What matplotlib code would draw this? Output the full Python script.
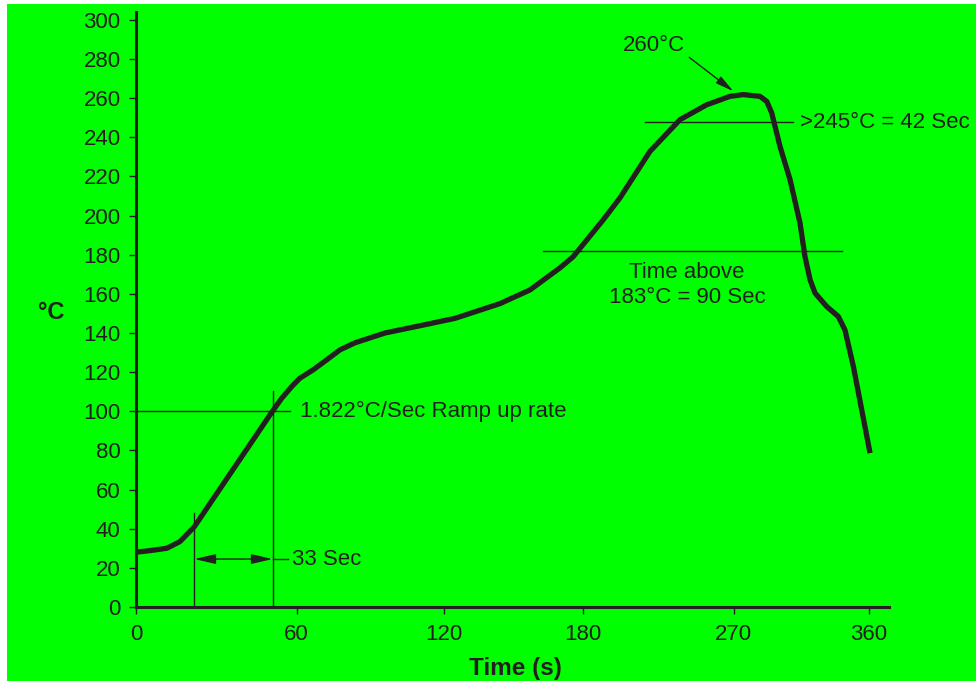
import numpy as np
import matplotlib
matplotlib.use("Agg")
import matplotlib.pyplot as plt

plt.rcParams['font.family'] = ['Liberation Sans', 'DejaVu Sans']

# ---------------- data ----------------
time_s = [0, 5.2, 11.5, 16.4, 21.8, 51.1, 54.5, 58.2, 61.4, 66.8, 72.3, 77.7,
          83.8, 96, 110.2, 124.8, 144.2, 157.2, 170.2, 175.9, 192.3, 202.2,
          220.1, 238, 253.9, 267.8, 276.4, 287.5, 292, 295.3, 300.8, 307.5,
          314.1, 317.4, 320.8, 324.1, 331.9, 339.6, 344, 349.6, 360.7]
temp_c = [28, 28.8, 30, 33.4, 41, 100.2, 106.7, 112.6, 116.9, 121.2, 126.3, 131.4,
          135, 140, 143.7, 147.5, 155, 162, 173.3, 179, 197.9, 209,
          232.8, 249, 256.6, 260.9, 261.8, 260.9, 258.3, 252.4, 235.3, 218.3,
          196.2, 179.1, 167.2, 160.4, 153.5, 148.4, 141.6, 122.9, 78.6]

x_ticks = [0, 60, 120, 180, 270, 360]
y_ticks = list(range(0, 301, 20))

ramp_level = 100
ramp_t0, ramp_t1 = 21.8, 51.1
liq_level, liq_t0, liq_t1 = 182, 162.7, 341.8
peak_level, peak_t0, peak_t1 = 247.6, 216.9, 309.7

# ---------------- non-uniform time axis (as drawn in reference) ----------------
_tk = np.array([-60, 0, 60, 120, 180, 270, 360, 420])
_pk = np.array([-160.5, 0, 160.5, 308, 446.7, 597.7, 733, 823.2])

def fwd(t):
    return np.interp(t, _tk, _pk)

def inv(p):
    return np.interp(p, _pk, _tk)

W, H = 976, 683
fig = plt.figure(figsize=(W / 100, H / 100), dpi=100, facecolor='white')
bg = fig.add_axes([7 / W, 2 / H, 1 - 7 / W, 1 - 6 / H], zorder=-5)
bg.set_facecolor('#00ff00')
bg.set_xticks([]); bg.set_yticks([])
for s in bg.spines.values():
    s.set_visible(False)

ax_l, ax_r, ax_b, ax_t = 136, 889, 607, 12
ax = fig.add_axes([ax_l / W, 1 - ax_b / H, (ax_r - ax_l) / W, (ax_b - ax_t) / H], zorder=1)
ax.set_facecolor('none')
ax.set_xscale('function', functions=(fwd, inv))
ax.set_xlim(0, float(inv(ax_r - ax_l)))
ax.set_ylim(0, 304)

dark = '#231f20'
for s in ['top', 'right']:
    ax.spines[s].set_visible(False)
for s in ['left', 'bottom']:
    ax.spines[s].set_linewidth(2.2)
    ax.spines[s].set_color(dark)

ax.set_xticks(x_ticks)
ax.set_xticklabels([str(v) for v in x_ticks])
ax.set_yticks(y_ticks)
ax.set_yticklabels([str(v) for v in y_ticks])
ax.xaxis.set_minor_locator(matplotlib.ticker.NullLocator())
ax.tick_params(axis='both', direction='out', length=5, width=1, color=dark,
               labelsize=16, labelcolor=dark)
ax.tick_params(axis='y', pad=6)
ax.tick_params(axis='x', pad=7)

# main profile
ax.plot(time_s, temp_c, color=dark, lw=3.8, solid_capstyle='butt',
        solid_joinstyle='round', zorder=5)

tl = dict(color=dark, lw=1.0, zorder=3)
# ramp-up construction
ax.plot([0, 57.6], [ramp_level, ramp_level], **tl)
ax.plot([ramp_t0, ramp_t0], [0, 48], **tl)
ax.plot([ramp_t1, ramp_t1], [0, 110.4], **tl)
ax.plot([ramp_t1, 56.8], [24.5, 24.5], **tl)
ax.annotate('', xy=(ramp_t0, 24.5), xytext=(ramp_t1, 24.5),
            arrowprops=dict(arrowstyle='<|-|>,head_length=1.3,head_width=0.3',
                            mutation_scale=10, color=dark, lw=1.0,
                            shrinkA=0, shrinkB=0))
ax.text(58.3, 24.5, '33 Sec', fontsize=16, color=dark, va='center', ha='left')
ax.text(61.4, ramp_level, '1.822°C/Sec Ramp up rate', fontsize=16, color=dark,
        va='center', ha='left')

# liquidus line
ax.plot([liq_t0, liq_t1], [liq_level, liq_level], **tl)
ax.text(242.2, 164.5, 'Time above\n183°C = 90 Sec', fontsize=16, color=dark,
        va='center', ha='center', linespacing=1.3)

# peak line
ax.plot([peak_t0, peak_t1], [peak_level, peak_level], **tl)
ax.text(314.2, peak_level, '>245°C = 42 Sec', fontsize=16, color=dark,
        va='center', ha='left')

# peak annotation
ax.annotate('', xy=(269.8, 263.5), xytext=(243.5, 280.8),
            arrowprops=dict(arrowstyle='-|>,head_length=1.1,head_width=0.25',
                            mutation_scale=10, color=dark, lw=1.0,
                            shrinkA=0, shrinkB=0))
ax.text(203.8, 286.7, '260°C', fontsize=16, color=dark, va='center', ha='left')

# axis titles
fig.text(51 / W, 1 - 313 / H, '°C', fontsize=17, fontweight='bold', color=dark,
         ha='center', va='center')
fig.text(515 / W, 1 - 669 / H, 'Time (s)', fontsize=17.5, fontweight='bold',
         color=dark, ha='center', va='center')

fig.savefig('out.png', dpi=100, facecolor=fig.get_facecolor())
